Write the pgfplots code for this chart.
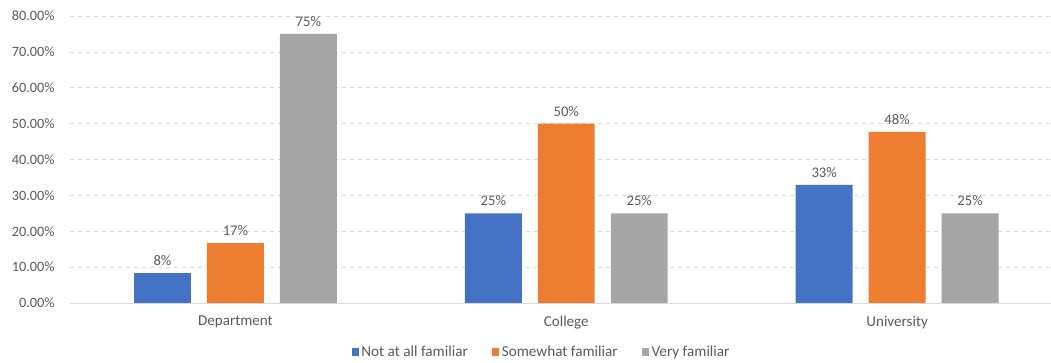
\documentclass[border=0pt]{standalone}
\usepackage{pgfplots}
\pgfplotsset{compat=1.18}
\usepackage{fontspec}
\setmainfont{Carlito}
\definecolor{cblue}{HTML}{4472C4}
\definecolor{corange}{HTML}{ED7D31}
\definecolor{cgray}{HTML}{A5A5A5}
\definecolor{ctext}{HTML}{595959}
\definecolor{cgrid}{HTML}{D9D9D9}
\begin{document}
\begin{tikzpicture}
\begin{axis}[
  at={(0,0)}, anchor=south west,
  scale only axis,
  width=735.75pt, height=215.25pt,
  ybar,
  bar width=0.172,
  xmin=-0.5, xmax=2.465,
  ymin=0, ymax=80,
  ytick={0,10,...,80},
  xtick={0,1,2},
  xticklabels={Department,College,University},
  axis line style={draw=none},
  axis x line*=bottom,
  axis y line*=left,
  major tick length=0pt,
  ymajorgrids,
  grid style={cgrid, dashed, line width=0.5pt},
  font=\fontsize{11}{13}\selectfont,
  yticklabel style={text=ctext, font=\fontsize{10.7}{12}\selectfont, xshift=-8pt},
  xticklabel style={text=ctext, font=\fontsize{11.3}{13}\selectfont, yshift=-6pt},
  /pgf/number format/assume math mode=true,
  yticklabel={\pgfmathprintnumber[fixed,fixed zerofill,precision=2]{\tick}\%},
  nodes near coords={\pgfmathprintnumber[fixed,precision=0]{\pgfplotspointmeta}\%},
  nodes near coords style={text=ctext, font=\fontsize{11}{13}\selectfont, yshift=2pt},
  legend columns=3,
  legend style={draw=none, fill=none, at={(0.481,-0.171)}, anchor=center,
    font=\fontsize{11.4}{13}\selectfont, text=ctext,
    /tikz/every even column/.append style={column sep=16pt}},
  legend image code/.code={\fill[#1] (0pt,-2.7pt) rectangle (5.4pt,2.7pt);},
  clip=false,
]
\addplot[fill=cblue, draw=none, bar shift=-0.2205] coordinates {(0,8.33) (1,25) (2,32.9)};
\addplot[fill=corange, draw=none, bar shift=0] coordinates {(0,16.67) (1,50) (2,47.7)};
\addplot[fill=cgray, draw=none, bar shift=0.2205] coordinates {(0,75) (1,25) (2,25)};
\draw[cgrid, line width=0.6pt] (axis cs:-0.5,0) -- (axis cs:2.465,0);
\legend{Not at all familiar, Somewhat familiar, Very familiar}
\end{axis}
\pgfresetboundingbox
\path (-52.5pt,-44.25pt) rectangle (735.75pt,227.25pt);
\end{tikzpicture}
\end{document}
